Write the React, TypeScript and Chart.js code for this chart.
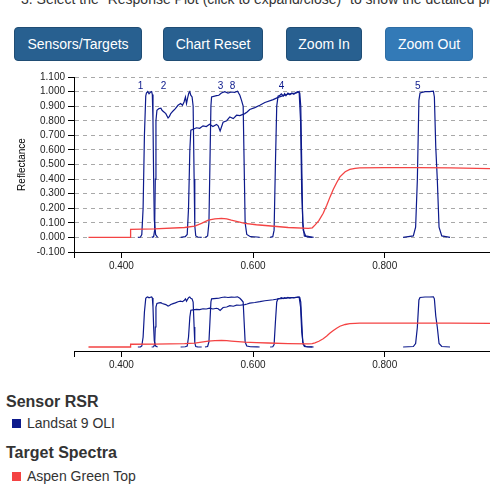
import React, { useEffect, useRef } from 'react';
import { Chart, registerables } from 'chart.js';

Chart.register(...registerables);

const FONT = "'Liberation Sans', Arial, Helvetica, sans-serif";
const NAVY = '#0d1a8c';
const RED = '#f44343';

const introText = '3. Select the "Response Plot (click to expand/close)" to show the detailed plot.';
const buttonLabels = ['Sensors/Targets', 'Chart Reset', 'Zoom In', 'Zoom Out'];

// Landsat 9 OLI relative spectral response
const band1Wl = [0.425, 0.429, 0.431, 0.433, 0.435, 0.437, 0.438, 0.44, 0.442, 0.444, 0.446, 0.447, 0.448, 0.449, 0.45, 0.452, 0.455];
const band1Val = [0.0, 0.003, 0.02, 0.2, 0.7, 0.97, 0.99, 1.0, 0.985, 0.995, 1.0, 0.98, 0.8, 0.4, 0.12, 0.02, 0.0];

const band2Wl = [0.446, 0.449, 0.4505, 0.4515, 0.4525, 0.454, 0.457, 0.46, 0.462, 0.4675, 0.4709, 0.473, 0.475, 0.4785, 0.482, 0.486, 0.49, 0.4928, 0.4952, 0.4973, 0.4989, 0.5004, 0.5024, 0.5039, 0.5054, 0.5074, 0.509, 0.5105, 0.5115, 0.513, 0.516, 0.522];
const band2Val = [0.0, 0.005, 0.05, 0.4, 0.8, 0.872, 0.883, 0.886, 0.87, 0.849, 0.819, 0.83, 0.849, 0.867, 0.883, 0.906, 0.918, 0.906, 0.929, 0.963, 0.918, 0.952, 0.99, 1.0, 0.975, 0.963, 0.9, 0.4, 0.08, 0.01, 0.003, 0.0];

const band3Wl = [0.527, 0.531, 0.533, 0.5345, 0.536, 0.537, 0.5445, 0.548, 0.552, 0.557, 0.562, 0.567, 0.572, 0.5764, 0.58, 0.5825, 0.585, 0.5865, 0.588, 0.5905, 0.596, 0.606, 0.61];
const band3Val = [0.0, 0.01, 0.1, 0.5, 0.9, 0.963, 0.972, 0.975, 0.99, 1.0, 0.99, 0.997, 0.995, 1.003, 0.975, 0.94, 0.9, 0.5, 0.1, 0.02, 0.005, 0.003, 0.0];

const band8Wl = [0.49, 0.497, 0.5, 0.502, 0.504, 0.5055, 0.509, 0.514, 0.519, 0.524, 0.529, 0.534, 0.539, 0.5445, 0.547, 0.55, 0.5545, 0.56, 0.5647, 0.57, 0.575, 0.58, 0.5875, 0.591, 0.595, 0.6027, 0.6103, 0.618, 0.6306, 0.638, 0.6458, 0.651, 0.6586, 0.666, 0.67, 0.6722, 0.674, 0.6762, 0.68, 0.689, 0.692];
const band8Val = [0.0, 0.005, 0.02, 0.2, 0.6, 0.735, 0.742, 0.752, 0.748, 0.765, 0.76, 0.776, 0.76, 0.775, 0.765, 0.73, 0.79, 0.8, 0.826, 0.815, 0.838, 0.835, 0.849, 0.86, 0.877, 0.89, 0.906, 0.925, 0.945, 0.96, 0.972, 0.98, 0.986, 0.99, 1.0, 0.8, 0.3, 0.05, 0.01, 0.003, 0.0];

const band4Wl = [0.626, 0.63, 0.632, 0.634, 0.636, 0.638, 0.641, 0.643, 0.646, 0.648, 0.65, 0.653, 0.656, 0.659, 0.662, 0.665, 0.668, 0.671, 0.6725, 0.674, 0.6755, 0.678, 0.683, 0.69];
const band4Val = [0.0, 0.005, 0.05, 0.5, 0.9, 0.968, 0.975, 0.985, 0.97, 0.986, 0.972, 0.99, 0.978, 0.99, 0.982, 0.993, 1.0, 0.99, 0.9, 0.5, 0.1, 0.01, 0.003, 0.0];

const band5Wl = [0.828, 0.8435, 0.847, 0.8496, 0.852, 0.8537, 0.8613, 0.868, 0.874, 0.8755, 0.8776, 0.88, 0.8826, 0.8867, 0.8993];
const band5Val = [0.0, 0.01, 0.07, 0.39, 0.94, 0.99, 1.0, 1.0, 1.003, 0.963, 0.62, 0.39, 0.07, 0.01, 0.0];

// Target spectrum: Aspen Green Top
const targetWl = [0.35, 0.4135, 0.414, 0.45, 0.496, 0.5115, 0.5217, 0.532, 0.542, 0.552, 0.56, 0.567, 0.5875, 0.605, 0.623, 0.6534, 0.684, 0.69, 0.694, 0.7, 0.7066, 0.712, 0.717, 0.722, 0.727, 0.732, 0.74, 0.747, 0.755, 0.762, 0.8, 0.85, 0.9, 0.96, 1.0];
const targetVal = [0.0, 0.0, 0.055, 0.058, 0.068, 0.077, 0.096, 0.118, 0.127, 0.131, 0.127, 0.118, 0.096, 0.087, 0.08, 0.068, 0.062, 0.066, 0.084, 0.115, 0.166, 0.22, 0.278, 0.33, 0.375, 0.415, 0.45, 0.466, 0.473, 0.477, 0.478, 0.478, 0.477, 0.472, 0.47];

const bandNames = ['1', '2', '3', '8', '4', '5'];
const bandLabelWl = [0.4289, 0.4639, 0.5506, 0.5688, 0.6433, 0.8502];
const bandLabelLevel = 1.04;

const yTicks = [-0.1, 0, 0.1, 0.2, 0.3, 0.4, 0.5, 0.6, 0.7, 0.8, 0.9, 1.0, 1.1];
const xTicks = [0.4, 0.6, 0.8];
const xMin = 0.328;
const xMax = 0.96;

const bands = [
  [band1Wl, band1Val],
  [band2Wl, band2Val],
  [band3Wl, band3Val],
  [band8Wl, band8Val],
  [band4Wl, band4Val],
  [band5Wl, band5Val],
];

function pts(w: number[], v: number[]) {
  return w.map((x, i) => ({ x, y: v[i] }));
}

function makeDatasets() {
  return [
    {
      label: 'Aspen Green Top',
      data: pts(targetWl, targetVal),
      borderColor: RED,
      borderWidth: 1.3,
      pointRadius: 0,
      tension: 0,
      fill: false,
    },
    ...bands.map(([w, v], i) => ({
      label: 'Band ' + bandNames[i],
      data: pts(w, v),
      borderColor: NAVY,
      borderWidth: 1.2,
      pointRadius: 0,
      tension: 0,
      fill: false,
    })),
  ];
}

const bandLabelPlugin = {
  id: 'bandLabels',
  afterDatasetsDraw(chart: any) {
    const { ctx, scales } = chart;
    ctx.save();
    ctx.font = `10px ${FONT}`;
    ctx.fillStyle = NAVY;
    ctx.textAlign = 'center';
    ctx.textBaseline = 'middle';
    bandNames.forEach((n, i) => {
      ctx.fillText(n, scales.x.getPixelForValue(bandLabelWl[i]), scales.y.getPixelForValue(bandLabelLevel));
    });
    ctx.restore();
  },
};

function xScale(height: number) {
  return {
    type: 'linear',
    min: xMin,
    max: xMax,
    afterFit: (s: any) => {
      s.height = height;
    },
    afterBuildTicks: (s: any) => {
      s.ticks = [xMin, ...xTicks].map((v) => ({ value: v }));
    },
    ticks: {
      autoSkip: false,
      maxRotation: 0,
      padding: 2,
      color: '#222',
      font: { size: 10, family: FONT },
      callback: (v: any) => (xTicks.some((t) => Math.abs(t - v) < 1e-9) ? Number(v).toFixed(3) : ''),
    },
    grid: { drawOnChartArea: false, tickColor: '#000', tickLength: 6, color: '#000' },
    border: { color: '#000', width: 1 },
  };
}

function ChartCanvas({ overview, top, height }: { overview: boolean; top: number; height: number }) {
  const ref = useRef<HTMLCanvasElement>(null);
  useEffect(() => {
    if (!ref.current) return;
    const scales: any = overview
      ? {
          x: xScale(29),
          y: { type: 'linear', display: false, min: -0.08, max: 1.04 },
        }
      : {
          x: xScale(28),
          y: {
            type: 'linear',
            min: -0.1,
            max: 1.1,
            afterFit: (s: any) => {
              s.width = 74;
            },
            afterBuildTicks: (s: any) => {
              s.ticks = yTicks.map((v) => ({ value: v }));
            },
            ticks: {
              autoSkip: false,
              padding: 3,
              color: '#222',
              font: { size: 10, family: FONT },
              callback: (v: any) => Number(v).toFixed(3),
            },
            grid: { color: '#a8a8a8', tickColor: '#000', tickLength: 6, lineWidth: 1 },
            border: { color: '#000', width: 1, dash: [4, 4] },
            title: {
              display: true,
              text: 'Reflectance',
              color: '#000',
              font: { size: 10, family: FONT, lineHeight: 1.2 },
              padding: { top: 16, bottom: 0 },
            },
          },
        };
    const chart = new Chart(ref.current, {
      type: 'line',
      data: { datasets: makeDatasets() as any },
      options: {
        responsive: false,
        animation: false,
        devicePixelRatio: 1,
        parsing: false as any,
        layout: { padding: overview ? { top: 15, left: 74, right: 0, bottom: 0 } : { top: 17, left: 0, right: 0, bottom: 0 } },
        plugins: { legend: { display: false }, tooltip: { enabled: false } },
        scales,
      } as any,
      plugins: overview ? [] : [bandLabelPlugin],
    });
    return () => chart.destroy();
  }, [overview]);
  return (
    <canvas
      ref={ref}
      width={490}
      height={height}
      style={{ position: 'absolute', left: 0, top, width: 490, height }}
    />
  );
}

const buttonBoxes = [
  { left: 14, width: 128, bg: '#286090', border: '#204d74' },
  { left: 163, width: 100, bg: '#286090', border: '#204d74' },
  { left: 286, width: 76, bg: '#286090', border: '#204d74' },
  { left: 385, width: 88, bg: '#337ab7', border: '#2e6da4' },
];

export default function App() {
  return (
    <div
      style={{
        position: 'fixed',
        left: 0,
        top: 0,
        width: 490,
        height: 490,
        overflow: 'hidden',
        background: '#fff',
        fontFamily: FONT,
        color: '#333',
      }}
    >
      <div style={{ position: 'absolute', left: 21, top: -11, fontSize: 14, lineHeight: '20px', whiteSpace: 'nowrap' }}>
        {introText}
      </div>
      {buttonLabels.map((b, i) => (
        <div
          key={b}
          style={{
            position: 'absolute',
            left: buttonBoxes[i].left,
            top: 27,
            width: buttonBoxes[i].width,
            height: 34,
            boxSizing: 'border-box',
            background: buttonBoxes[i].bg,
            border: `1px solid ${buttonBoxes[i].border}`,
            borderRadius: 4,
            color: '#fff',
            fontSize: 14,
            display: 'flex',
            alignItems: 'center',
            justifyContent: 'center',
          }}
        >
          {b}
        </div>
      ))}
      <ChartCanvas overview={false} top={60} height={220} />
      <ChartCanvas overview={true} top={280} height={100} />
      <div style={{ position: 'absolute', left: 6, top: 392, fontSize: 16, fontWeight: 'bold', lineHeight: '20px' }}>Sensor RSR</div>
      <div style={{ position: 'absolute', left: 12, top: 419, width: 9, height: 9, background: NAVY }} />
      <div style={{ position: 'absolute', left: 27, top: 413, fontSize: 14, lineHeight: '20px' }}>Landsat 9 OLI</div>
      <div style={{ position: 'absolute', left: 6, top: 443, fontSize: 16, fontWeight: 'bold', lineHeight: '20px' }}>Target Spectra</div>
      <div style={{ position: 'absolute', left: 12, top: 472, width: 9, height: 9, background: RED }} />
      <div style={{ position: 'absolute', left: 27, top: 466, fontSize: 14, lineHeight: '20px' }}>Aspen Green Top</div>
    </div>
  );
}
